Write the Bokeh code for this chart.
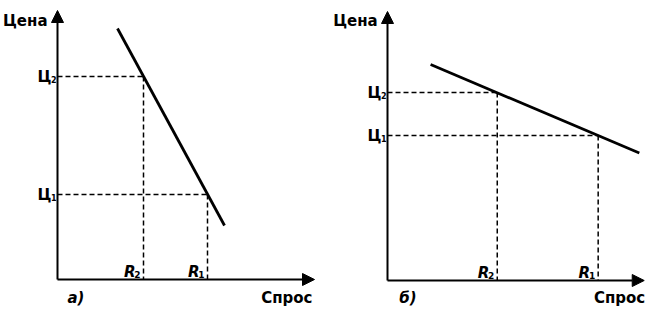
from bokeh.plotting import figure
from bokeh.layouts import row
from bokeh.models import Range1d, ColumnDataSource, Arrow, NormalHead
from bokeh.core.properties import value
from bokeh.embed import file_html
from bokeh.resources import INLINE

# ---- data (arbitrary units) ----
panel_labels = ["а)", "б)"]
axis_y_name = "Цена"
axis_x_name = "Спрос"

# panel a (inelastic demand)
a_line_x = [6.0, 16.7]
a_line_y = [25.1, 5.4]
a_demand = [15.0, 8.6]     # R1, R2
a_price = [8.5, 20.3]      # Ц1, Ц2

# panel b (elastic demand)
b_line_x = [4.4, 25.7]
b_line_y = [21.6, 12.75]
b_demand = [21.5, 11.2]    # R1, R2
b_price = [14.5, 18.8]     # Ц1, Ц2

subs = ["1", "2"]

FONT = value("DejaVu Sans")


def panel(width, xr, yr, lx, ly, dem, pri, ax_x_end, ax_y_end, label, label_x,
          yname_x, yname_y, xname_x, xname_y, label_y):
    p = figure(width=width, height=306, x_range=Range1d(*xr), y_range=Range1d(*yr),
               output_backend="svg", toolbar_location=None, min_border=0,
               outline_line_color=None, background_fill_color="white",
               border_fill_color="white")
    p.axis.visible = False
    p.grid.visible = False

    # dashed guide lines
    seg = ColumnDataSource(dict(
        x0=[0] * len(dem) + list(dem),
        y0=list(pri) + list(pri),
        x1=list(dem) + list(dem),
        y1=list(pri) + [0] * len(dem),
    ))
    p.segment("x0", "y0", "x1", "y1", source=seg, line_color="black",
              line_width=1.5, line_dash="5 3")

    # axes with arrows
    p.add_layout(Arrow(x_start=0, y_start=0, x_end=ax_x_end, y_end=0,
                       line_width=2, line_color="black",
                       end=NormalHead(size=12, fill_color="black", line_color="black")))
    p.add_layout(Arrow(x_start=0, y_start=0, x_end=0, y_end=ax_y_end,
                       line_width=2, line_color="black",
                       end=NormalHead(size=12, fill_color="black", line_color="black")))

    # demand line
    p.line(lx, ly, line_width=2.8, line_color="black")

    # price labels Ц1, Ц2
    ps = ColumnDataSource(dict(y=pri, t=["Ц"] * len(pri), s=subs))
    p.text(x=0, y="y", text="t", source=ps, text_align="right", text_baseline="middle",
           x_offset=-6, y_offset=0, text_font=FONT, text_font_size="15px",
           text_font_style="bold", text_color="black")
    p.text(x=0, y="y", text="s", source=ps, text_align="right", text_baseline="middle",
           x_offset=-1, y_offset=3, text_font=FONT, text_font_size="8px",
           text_font_style="bold", text_color="black")

    # demand labels R1, R2
    ds = ColumnDataSource(dict(x=dem, t=["R"] * len(dem), s=subs))
    p.text(x="x", y=0, text="t", source=ds, text_align="right", text_baseline="alphabetic",
           x_offset=-8, y_offset=-8, text_font=FONT, text_font_size="15px",
           text_font_style="bold italic", text_color="black")
    p.text(x="x", y=0, text="s", source=ds, text_align="right", text_baseline="alphabetic",
           x_offset=-3, y_offset=-5, text_font=FONT, text_font_size="9px",
           text_font_style="bold", text_color="black")

    # axis names
    p.text(x=[yname_x], y=[yname_y], text=[axis_y_name], text_align="right",
           text_baseline="alphabetic", text_font=FONT, text_font_size="15px",
           text_font_style="bold", text_color="black")
    p.text(x=[xname_x], y=[xname_y], text=[axis_x_name], text_align="right",
           text_baseline="alphabetic", text_font=FONT, text_font_size="15px",
           text_font_style="bold", text_color="black")
    # panel label
    p.text(x=[label_x], y=[label_y], text=[label], text_align="left",
           text_baseline="alphabetic", text_font=FONT, text_font_size="15px",
           text_font_style="bold italic", text_color="black")
    return p


pa = panel(324, (-5.7, 26.7), (-2.7, 27.9), a_line_x, a_line_y, a_demand, a_price,
           25.7, 26.9, panel_labels[0], 1.0,
           -1.0, 25.9, 25.5, -1.85, -1.8)
pb = panel(321, (-6.43, 26.33), (-2.6, 28.0), b_line_x, b_line_y, b_demand, b_price,
           26.2, 26.9, panel_labels[1], 1.2,
           -1.0, 26.0, 26.3, -1.75, -1.7)

layout = row(pa, pb, spacing=0)
open("out.html", "w").write(file_html(layout, INLINE))
